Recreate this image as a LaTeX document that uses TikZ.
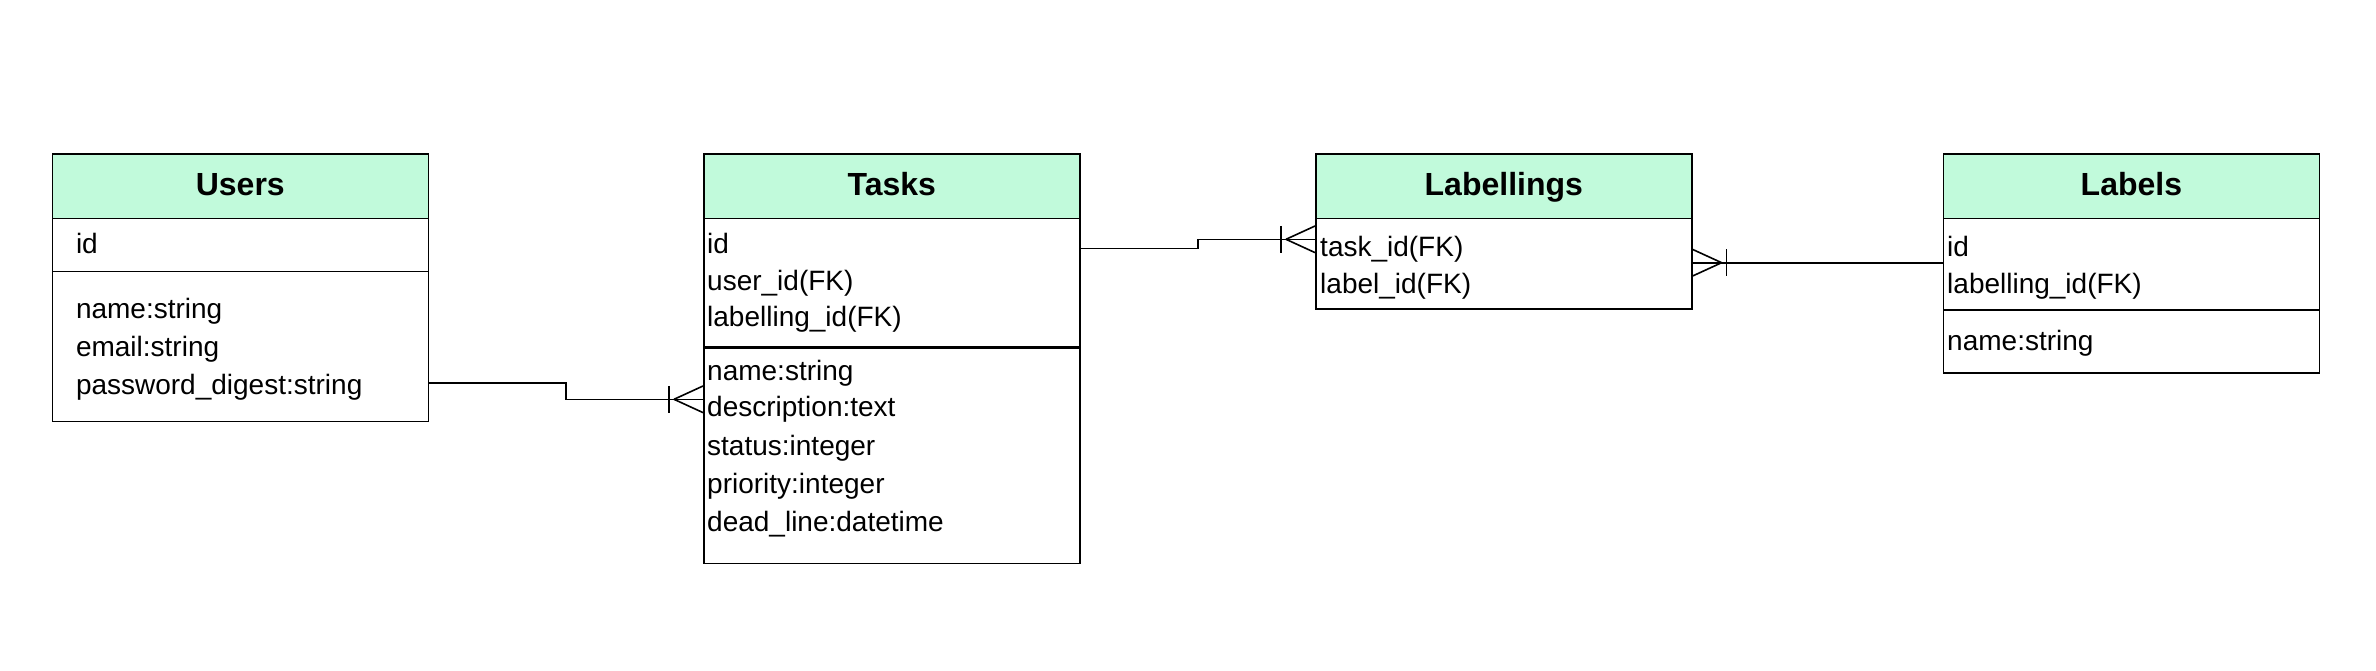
\documentclass[tikz,border=0pt]{standalone}
\usepackage{fontspec}
\setmainfont{Liberation Sans}
\usetikzlibrary{calc}
\definecolor{mint}{RGB}{193,250,219}
\tikzstyle{header}=[rectangle,draw=black,fill=mint,line width=1.6pt,minimum width=376pt,minimum height=64.5pt,anchor=north west,inner sep=0pt,text height=24pt,text depth=5pt,font=\fontsize{32}{38}\selectfont\bfseries]
\tikzstyle{section}=[rectangle,draw=black,line width=1.6pt,minimum width=376pt,anchor=north west,inner sep=0pt]
\tikzstyle{field}=[anchor=mid west,inner sep=0pt,yshift=-6pt,font=\fontsize{28}{34}\selectfont]
\tikzstyle{link}=[line width=1.6pt]
% crow's foot with bar: #1 = end point, #2 = 1 (line comes from the left) or -1 (from the right)
\newcommand{\oneToMany}[2]{%
  \draw [style=link] ($(#1)+(-29*#2,0)$) -- ($(#1)+(0,-13.3)$);
  \draw [style=link] ($(#1)+(-29*#2,0)$) -- ($(#1)+(0,13.3)$);
  \draw [style=link] ($(#1)+(-34*#2,-13.5)$) -- ($(#1)+(-34*#2,13.5)$);}

\begin{document}
\begin{tikzpicture}[x=1pt,y=-1pt]
	\useasboundingbox [fill=white] (0,0) rectangle (2376,670);
		% Users
		\node [style=section, minimum height=53.4pt] (Uk) at (51.5,217.3) {};
		\node [style=section, minimum height=150pt] (Ua) at (51.5,270.7) {};
		\node [style=header] (Uh) at (51.5,153) {Users};
		\node [style=field] (Uid) at (75.8,245) {id};
		\node [style=field] (Uname) at (75.8,310) {name:string};
		\node [style=field] (Umail) at (75.8,348) {email:string};
		\node [style=field] (Upass) at (75.8,386) {password\_digest:string};
		% Tasks
		\node [style=section, minimum height=128.4pt] (Tk) at (703,217.3) {};
		\node [style=section, minimum height=217pt] (Ta) at (703,345.7) {};
		\node [style=header] (Th) at (703,153) {Tasks};
		\draw [line width=3.2pt] (Tk.south west) -- (Tk.south east);
		\node [style=field] (Tid) at (707,245) {id};
		\node [style=field] (Tuser) at (707,281.7) {user\_id(FK)};
		\node [style=field] (Tlab) at (707,317.7) {labelling\_id(FK)};
		\node [style=field] (Tname) at (707,371.7) {name:string};
		\node [style=field] (Tdesc) at (707,408.3) {description:text};
		\node [style=field] (Tstat) at (707,446.7) {status:integer};
		\node [style=field] (Tprio) at (707,485) {priority:integer};
		\node [style=field] (Tdead) at (707,523.3) {dead\_line:datetime};
		% Labellings
		\node [style=section, minimum height=91pt] (Lk) at (1315,217.3) {};
		\node [style=header] (Lh) at (1315,153) {Labellings};
		\node [style=field] (Ltask) at (1320,248.3) {task\_id(FK)};
		\node [style=field] (Llabel) at (1320,285) {label\_id(FK)};
		% Labels
		\node [style=section, minimum height=91.7pt] (Bk) at (1942.6,217.3) {};
		\node [style=section, minimum height=63.3pt] (Ba) at (1942.6,309) {};
		\node [style=header] (Bh) at (1942.6,153) {Labels};
		\node [style=field] (Bid) at (1947,248.3) {id};
		\node [style=field] (Blab) at (1947,285) {labelling\_id(FK)};
		\node [style=field] (Bname) at (1947,341.7) {name:string};
		% connectors
		\coordinate (u1) at (Ua.east |- 0,382.7);
		\coordinate (t1) at (Ta.west |- 0,399.3);
		\coordinate (t2) at (Tk.east |- 0,248.3);
		\coordinate (l1) at (Lk.west |- 0,239.3);
		\coordinate (l2) at (Lk.east |- 0,262.7);
		\coordinate (b1) at (Bk.west |- 0,262.7);
		\draw [style=link] (u1) -- ++(137,0) |- (t1);
		\draw [style=link] (t2) -- ++(117.6,0) |- (l1);
		\draw [style=link] (b1) -- (l2);
		\oneToMany{t1}{1}
		\oneToMany{l1}{1}
		\oneToMany{l2}{-1}
\end{tikzpicture}
\end{document}
